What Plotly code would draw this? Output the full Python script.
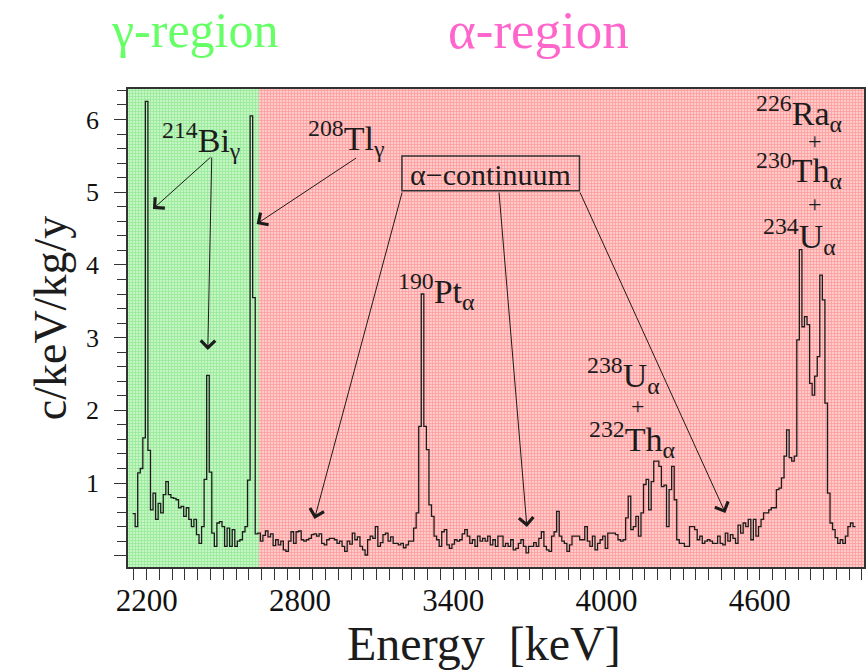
import plotly.graph_objects as go

# ---------------- data ----------------
BIN_START = 2145.0   # keV, lower edge of first histogram bin
BIN_WIDTH = 10.0     # keV

rate = [  # c/keV/kg/y, one value per 10 keV bin
    0.58, 0.40, 1.14, 1.20, 1.62, 6.25, 1.45, 0.63, 0.86, 0.50,
    0.72, 0.59, 0.84, 1.02, 0.84, 0.80, 0.79, 0.77, 0.66, 0.68,
    0.54, 0.66, 0.50, 0.40, 0.50, 0.29, 0.17, 0.40, 1.05, 2.48,
    1.15, 0.31, 0.13, 0.45, 0.47, 0.40, 0.13, 0.38, 0.13, 0.36,
    0.13, 0.20, 0.22, 0.33, 0.40, 1.04, 6.05, 3.55, 0.30, 0.31,
    0.20, 0.28, 0.34, 0.26, 0.30, 0.14, 0.22, 0.15, 0.20, 0.08,
    0.06, 0.20, 0.33, 0.17, 0.33, 0.34, 0.22, 0.20, 0.22, 0.24,
    0.29, 0.30, 0.27, 0.30, 0.17, 0.15, 0.22, 0.24, 0.24, 0.22,
    0.17, 0.20, 0.13, 0.06, 0.20, 0.16, 0.31, 0.22, 0.26, 0.13,
    0.08, 0.01, 0.22, 0.27, 0.24, 0.40, 0.13, 0.18, 0.29, 0.31,
    0.20, 0.26, 0.17, 0.17, 0.15, 0.17, 0.11, 0.15, 0.20, 0.20,
    0.38, 0.59, 1.78, 3.60, 1.78, 1.46, 0.70, 0.54, 0.27, 0.22,
    0.13, 0.33, 0.36, 0.15, 0.10, 0.16, 0.22, 0.20, 0.22, 0.30,
    0.36, 0.27, 0.17, 0.22, 0.13, 0.27, 0.20, 0.24, 0.20, 0.27,
    0.15, 0.22, 0.13, 0.27, 0.27, 0.13, 0.17, 0.13, 0.22, 0.08,
    0.10, 0.17, 0.22, 0.13, 0.04, 0.13, 0.13, 0.18, 0.13, 0.24,
    0.33, 0.13, 0.08, 0.06, 0.27, 0.33, 0.61, 0.27, 0.20, 0.17,
    0.06, 0.15, 0.27, 0.27, 0.27, 0.22, 0.22, 0.40, 0.20, 0.13,
    0.27, 0.08, 0.17, 0.22, 0.27, 0.10, 0.31, 0.31, 0.31, 0.29,
    0.22, 0.20, 0.22, 0.52, 0.82, 0.36, 0.40, 0.54, 0.27, 0.59,
    0.98, 1.05, 0.63, 1.02, 1.30, 1.30, 1.23, 0.95, 0.97, 0.40,
    0.91, 1.23, 0.77, 0.22, 0.17, 0.17, 0.13, 0.13, 0.40, 0.40,
    0.36, 0.22, 0.27, 0.17, 0.20, 0.22, 0.20, 0.17, 0.17, 0.27,
    0.17, 0.15, 0.31, 0.20, 0.29, 0.24, 0.17, 0.42, 0.31, 0.45,
    0.40, 0.50, 0.22, 0.50, 0.27, 0.40, 0.50, 0.59, 0.59, 0.63,
    0.66, 0.66, 0.91, 0.93, 1.07, 1.37, 1.73, 1.35, 1.30, 1.37,
    2.97, 4.21, 3.15, 3.29, 3.18, 2.37, 2.21, 2.47, 2.74, 3.86,
    3.52, 2.10, 0.86, 0.45, 0.36, 0.25, 0.17, 0.22, 0.17, 0.27,
    0.40, 0.45, 0.40,
]

x_tick_vals = [2200, 2800, 3400, 4000, 4600]
x_tick_text = ["2200", "2800", "3400", "4000", "4600"]
y_tick_vals = [0, 1, 2, 3, 4, 5, 6]
y_tick_text = ["", "1", "2", "3", "4", "5", "6"]

region_bounds = [2127, 2640, 5008]          # keV: gamma region | alpha region
region_names = ["γ-region", "α-region"]
region_cell = ["#c4f6c4", "#ffcaca"]
region_line = ["#6cdc6c", "#ff6e6e"]
region_text = ["#66ff66", "#ff66cc"]

X_RANGE = [2127, 5008]
Y_RANGE = [-0.155, 6.42]

# ---------------- figure geometry ----------------
W, H = 867, 670
ML, MR, MT, MB = 128, 1, 89, 103
PW, PH = W - ML - MR, H - MT - MB

FONT = "Liberation Serif, Times New Roman, serif"
INK = "#1c1c1c"


def P(px, py):
    """pixel position in the page -> paper coordinates"""
    return (px - ML) / PW, 1 - (py - MT) / PH


# ---------------- traces ----------------
edges = [BIN_START + BIN_WIDTH * i for i in range(len(rate) + 1)]
fig = go.Figure()

for k in range(len(region_names)):
    lo, hi = region_bounds[k], region_bounds[k + 1]
    fig.add_trace(go.Bar(
        x=[(lo + hi) / 2], y=[Y_RANGE[1] - Y_RANGE[0]], base=[Y_RANGE[0]],
        width=[hi - lo],
        marker=dict(color=region_cell[k], line=dict(width=0),
                    pattern=dict(shape="+", size=3, solidity=0.45,
                                 fgcolor=region_line[k], bgcolor=region_cell[k])),
        hoverinfo="skip", showlegend=False,
    ))

fig.add_trace(go.Scatter(
    x=edges, y=rate + [rate[-1]], mode="lines",
    line=dict(color=INK, width=1.3, shape="hv"),
    showlegend=False, hoverinfo="skip",
))

# ---------------- annotations ----------------
ann = []


def text(px, py, s, size, color=INK, xanchor="center", yanchor="middle", angle=0):
    x, y = P(px, py)
    ann.append(dict(x=x, y=y, xref="paper", yref="paper", text=s, showarrow=False,
                    xanchor=xanchor, yanchor=yanchor, textangle=angle,
                    font=dict(family=FONT, size=size, color=color)))


def arrow(tx, ty, hx, hy):
    x, y = P(hx, hy)
    ann.append(dict(x=x, y=y, xref="paper", yref="paper", text="",
                    showarrow=True, axref="pixel", ayref="pixel",
                    ax=tx - hx, ay=ty - hy, arrowcolor=INK, arrowwidth=1,
                    arrowhead=4, arrowsize=2.8, standoff=0))


# region titles above the frame
text(195, 30, region_names[0], 50, region_text[0])
text(540, 30, region_names[1], 53, region_text[1])

# axis titles
text(485, 643, "Energy\u00a0 [keV]", 48)
text(50, 318, "c/keV/kg/y", 46, angle=-90)

# isotope labels
LBL = 34
text(160, 140, "<sup>214</sup>Bi<sub>γ</sub>", LBL, xanchor="left")
text(306, 138, "<sup>208</sup>Tl<sub>γ</sub>", LBL, xanchor="left")
text(397, 291, "<sup>190</sup>Pt<sub>α</sub>", LBL, xanchor="left")
text(586, 375, "<sup>238</sup>U<sub>α</sub>", LBL, xanchor="left")
text(639, 406, "+", 24)
text(588, 439, "<sup>232</sup>Th<sub>α</sub>", LBL, xanchor="left")
text(756, 113, "<sup>226</sup>Ra<sub>α</sub>", LBL, xanchor="left")
text(817, 141, "+", 24)
text(756, 171, "<sup>230</sup>Th<sub>α</sub>", LBL, xanchor="left")
text(817, 204, "+", 24)
text(763, 236, "<sup>234</sup>U<sub>α</sub>", LBL, xanchor="left")

# arrows
arrow(212, 156, 153, 209)
arrow(212, 156, 208, 350)
arrow(358, 157, 257, 224)
arrow(403, 191, 315, 519)
arrow(500, 191, 528, 527)
arrow(581, 191, 727, 513)

# alpha-continuum box
text(491.7, 174, "α−continuum", 30)
bx0, by0 = P(402.7, 190.7)
bx1, by1 = P(580.7, 156)
shapes = [dict(type="rect", xref="paper", yref="paper", x0=bx0, x1=bx1, y0=by0, y1=by1,
               line=dict(color="#333333", width=1.5), fillcolor="rgba(0,0,0,0)")]

# ---------------- layout ----------------
axis_common = dict(showgrid=False, zeroline=False, showline=True, mirror=True,
                   linecolor="#333333", linewidth=1.5, ticks="outside",
                   tickcolor="#333333", tickwidth=1.2)

fig.update_layout(
    width=W, height=H, margin=dict(l=ML, r=MR, t=MT, b=MB, pad=0),
    paper_bgcolor="white", plot_bgcolor="white",
    barmode="overlay", bargap=0,
    font=dict(family=FONT, color="#111111"),
    annotations=ann, shapes=shapes,
    xaxis=dict(range=X_RANGE, tickvals=x_tick_vals, ticktext=x_tick_text,
               ticklen=11, tickfont=dict(size=31, family=FONT, color="#111111"),
               ticklabelstandoff=-6,
               minor=dict(dtick=50, tick0=2200, ticklen=11, ticks="outside",
                          tickcolor="#333333", tickwidth=1.2),
               **axis_common),
    yaxis=dict(range=Y_RANGE, tickvals=y_tick_vals, ticktext=y_tick_text,
               ticklen=12, tickfont=dict(size=26, family=FONT, color="#111111"),
               ticklabelstandoff=10,
               minor=dict(dtick=0.2, tick0=0, ticklen=9, ticks="outside",
                          tickcolor="#333333", tickwidth=1.2),
               **axis_common),
)

fig.write_html("out.html")
